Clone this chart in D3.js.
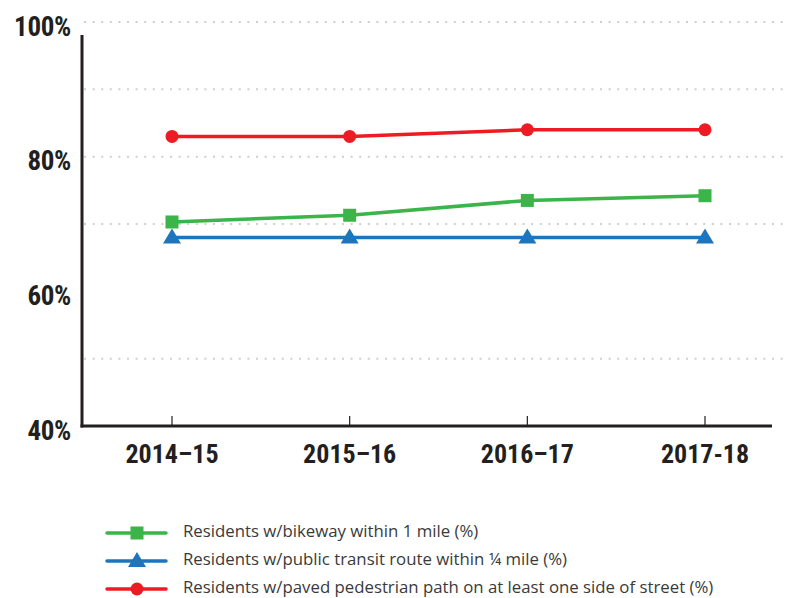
<!DOCTYPE html>
<html>
<head>
<meta charset="utf-8">
<script src="https://cdn.jsdelivr.net/npm/d3@7"></script>
<style>
  body { margin: 0; background: #fff; }
  svg text { fill: #231f20; }
</style>
</head>
<body>
<div id="vis"></div>
<script>
const years = ['2014–15', '2015–16', '2016–17', '2017-18'];
const bikeway = [70.3, 71.3, 73.5, 74.2];
const transit = [68, 68, 68, 68];
const pedestrian = [83, 83, 84, 84];
const yTicks = [40, 60, 80, 100];
const gridTicks = [50, 70, 80, 90, 100];

const series = [
  { name: 'Residents w/bikeway within 1 mile (%)', values: bikeway, color: '#3bb44a', shape: 'square' },
  { name: 'Residents w/public transit route within ¼ mile (%)', values: transit, color: '#1f75bc', shape: 'triangle' },
  { name: 'Residents w/paved pedestrian path on at least one side of street (%)', values: pedestrian, color: '#ed1c24', shape: 'circle' }
];

const width = 785, height = 598;
const svg = d3.select('#vis').append('svg')
  .attr('width', width)
  .attr('height', height);

const x = d3.scalePoint().domain(years).range([172, 705]);
const y = d3.scaleLinear().domain([40, 100]).range([426, 22]);
const axisFont = '"Liberation Sans Narrow", "Roboto Condensed", "DejaVu Sans Condensed", sans-serif';

// dotted gridlines
svg.append('g').selectAll('line')
  .data(gridTicks)
  .join('line')
    .attr('x1', 84).attr('x2', width)
    .attr('y1', d => y(d)).attr('y2', d => y(d))
    .attr('stroke', '#cfcfcf')
    .attr('stroke-width', 2)
    .attr('stroke-dasharray', '2,6.6');

// y labels
svg.append('g').selectAll('text')
  .data(yTicks)
  .join('text')
    .attr('x', 71)
    .attr('y', d => y(d) + 13.5)
    .attr('text-anchor', 'end')
    .style('font-family', axisFont)
    .style('font-weight', 'bold')
    .style('font-size', '27px')
    .style('letter-spacing', '-0.3px')
    .text(d => d + '%');

// axes lines
svg.append('line')
  .attr('x1', 82).attr('x2', 82)
  .attr('y1', 35).attr('y2', 427.5)
  .attr('stroke', '#231f20').attr('stroke-width', 3);

svg.append('line')
  .attr('x1', 80.5).attr('x2', 772)
  .attr('y1', y(40)).attr('y2', y(40))
  .attr('stroke', '#231f20').attr('stroke-width', 3);

svg.append('g').selectAll('line')
  .data(years)
  .join('line')
    .attr('x1', d => x(d)).attr('x2', d => x(d))
    .attr('y1', y(40) - 10).attr('y2', y(40))
    .attr('stroke', '#231f20').attr('stroke-width', 1.2);

svg.append('g').selectAll('text')
  .data(years)
  .join('text')
    .attr('x', d => x(d))
    .attr('y', 463)
    .attr('text-anchor', 'middle')
    .style('font-family', axisFont)
    .style('font-weight', 'bold')
    .style('font-size', '26px')
    .text(d => d);

function drawMarker(g, shape, cx, cy, color) {
  if (shape === 'square') {
    g.append('rect')
      .attr('x', cx - 6.5).attr('y', cy - 6.5)
      .attr('width', 13).attr('height', 13)
      .attr('fill', color);
  } else if (shape === 'triangle') {
    g.append('path')
      .attr('d', 'M' + cx + ',' + (cy - 9) + 'L' + (cx + 9) + ',' + (cy + 6) + 'L' + (cx - 9) + ',' + (cy + 6) + 'Z')
      .attr('fill', color);
  } else {
    g.append('circle')
      .attr('cx', cx).attr('cy', cy).attr('r', 6.5)
      .attr('fill', color);
  }
}

const line = d3.line()
  .x((d, i) => x(years[i]))
  .y(d => y(d));

series.forEach(function (s) {
  const g = svg.append('g');
  g.append('path')
    .attr('d', line(s.values))
    .attr('fill', 'none')
    .attr('stroke', s.color)
    .attr('stroke-width', 3.5);
  s.values.forEach(function (v, i) {
    drawMarker(g, s.shape, x(years[i]), y(v), s.color);
  });
});

// legend
const legendY = [533, 561, 589];
series.forEach(function (s, i) {
  const g = svg.append('g');
  g.append('line')
    .attr('x1', 107).attr('x2', 166)
    .attr('y1', legendY[i]).attr('y2', legendY[i])
    .attr('stroke', s.color)
    .attr('stroke-width', 3.5)
    .attr('stroke-linecap', 'round');
  drawMarker(g, s.shape, 137, legendY[i], s.color);
  g.append('text')
    .attr('x', 183)
    .attr('y', legendY[i] + 4)
    .style('font-family', '"Open Sans", "Noto Sans", sans-serif')
    .style('font-size', '16.8px')
    .style('fill', '#3a3a3a')
    .text(s.name);
});
</script>
</body>
</html>
